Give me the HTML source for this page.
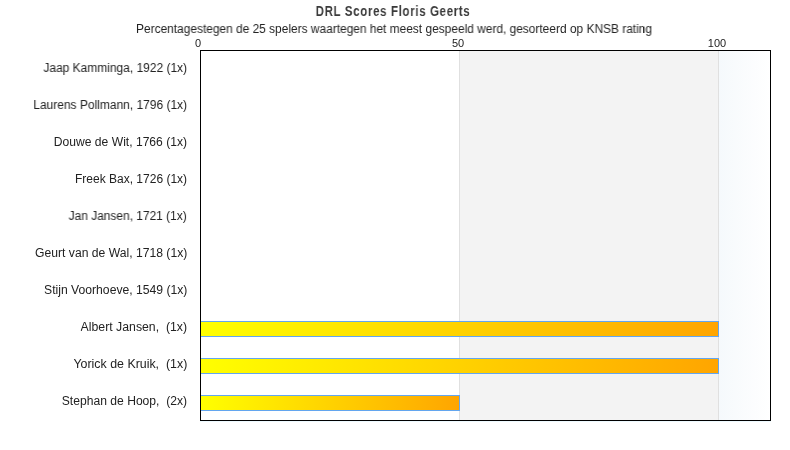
<!DOCTYPE html>
<html><head><meta charset="utf-8">
<style>
html,body{margin:0;padding:0;background:#fff;}
body{width:790px;height:450px;position:relative;overflow:hidden;font-family:"Liberation Sans",sans-serif;color:#222;}
.t{position:absolute;white-space:nowrap;line-height:1;will-change:transform;}
#title{left:393px;top:4px;font-size:14px;font-weight:bold;color:#3a3a3a;letter-spacing:0.8px;transform:translateX(-50%) scaleX(0.82);}
#sub{left:393.5px;top:23px;font-size:12px;transform:translateX(-50%) scaleX(0.993);}
.ax{top:38px;font-size:11px;width:40px;text-align:center;}
.lb{right:603px;font-size:12px;text-align:right;transform-origin:100% 50%;}
#plot{position:absolute;left:200px;top:50px;width:571px;height:371px;
background:linear-gradient(to right,#fff 0,#fff 259px,#f3f3f3 259px,#f3f3f3 518px,#f5f9fc 518px,#fff 100%);}
#frame{position:absolute;left:200px;top:50px;width:571px;height:371px;box-sizing:border-box;border:1px solid #000;}
#halo{position:absolute;left:200px;top:421px;width:571px;height:1px;background:#eefaff;}
.g{position:absolute;top:0;bottom:0;width:1px;background:#e0e0e0;}
.bar{position:absolute;left:0;height:16px;box-sizing:border-box;border:1px solid #63a6ef;background:linear-gradient(to right,#ffff00,#ffa500);}
</style></head><body>
<div class="t" id="title">DRL Scores Floris Geerts</div>
<div class="t" id="sub">Percentagestegen de 25 spelers waartegen het meest gespeeld werd, gesorteerd op KNSB rating</div>
<div class="t ax" style="left:178px">0</div>
<div class="t ax" style="left:437.5px">50</div>
<div class="t ax" style="left:697px">100</div>
<div id="plot">
<div class="g" style="left:259px"></div>
<div class="g" style="left:518px"></div>
<div class="bar" style="top:271px;width:519px"></div>
<div class="bar" style="top:308px;width:519px"></div>
<div class="bar" style="top:345px;width:260px"></div>
</div>
<div id="frame"></div>
<div id="halo"></div>
<div class="t lb" style="top:62px;transform:scaleX(0.997)">Jaap Kamminga, 1922 (1x)</div>
<div class="t lb" style="top:99px;transform:scaleX(0.998)">Laurens Pollmann, 1796 (1x)</div>
<div class="t lb" style="top:136px;transform:scaleX(1.009)">Douwe de Wit, 1766 (1x)</div>
<div class="t lb" style="top:173px;transform:scaleX(1.0)">Freek Bax, 1726 (1x)</div>
<div class="t lb" style="top:210px;transform:scaleX(0.995)">Jan Jansen, 1721 (1x)</div>
<div class="t lb" style="top:247px;transform:scaleX(1.013)">Geurt van de Wal, 1718 (1x)</div>
<div class="t lb" style="top:284px;transform:scaleX(1.014)">Stijn Voorhoeve, 1549 (1x)</div>
<div class="t lb" style="top:321px;transform:scaleX(1.023)">Albert Jansen,&nbsp; (1x)</div>
<div class="t lb" style="top:358px;transform:scaleX(1.032)">Yorick de Kruik,&nbsp; (1x)</div>
<div class="t lb" style="top:395px;transform:scaleX(1.01)">Stephan de Hoop,&nbsp; (2x)</div>
</body></html>
